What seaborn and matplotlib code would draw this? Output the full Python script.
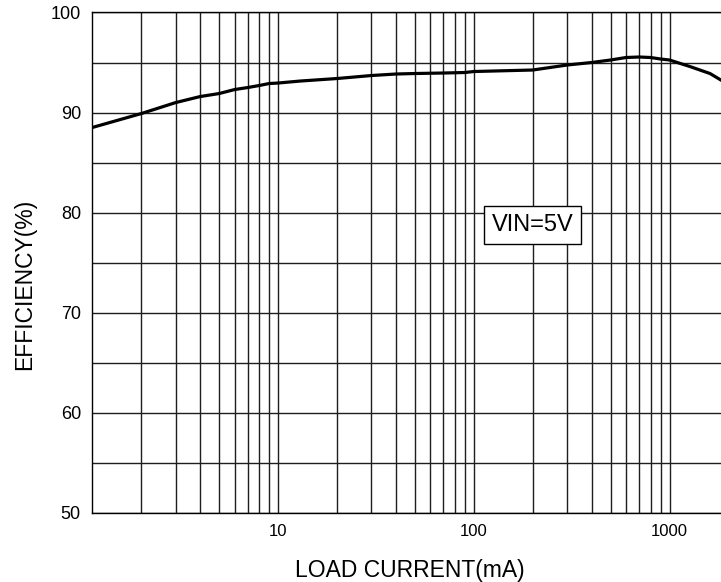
import numpy as np
import pandas as pd
import seaborn as sns
import matplotlib.pyplot as plt
from matplotlib.ticker import FixedLocator, NullFormatter

sns.set_theme(style="white")
plt.rcParams['font.family'] = ['Liberation Sans', 'DejaVu Sans']

# efficiency curve, VIN = 5V
load_current = [1.12, 2, 3, 4, 5, 6, 7, 8, 9, 10, 13, 20, 30, 40, 50, 70, 90, 100,
                200, 300, 400, 500, 600, 700, 800, 900, 1000, 1270, 1610, 2000]
efficiency = [88.5, 89.9, 91.0, 91.6, 91.9, 92.3, 92.5, 92.7, 92.9, 92.95, 93.15,
              93.4, 93.7, 93.85, 93.9, 93.95, 94.0, 94.1, 94.25, 94.75, 95.0, 95.25,
              95.5, 95.55, 95.5, 95.35, 95.25, 94.6, 93.9, 92.8]

x_ticks = [10, 100, 1000]
x_tick_labels = ['10', '100', '1000']
y_ticks = [50, 60, 70, 80, 90, 100]
annotation = 'VIN=5V'

df = pd.DataFrame({'Load': load_current, 'Eff': efficiency})

fig = plt.figure(figsize=(7.21, 5.82), dpi=100)
# right edge of the plot is cut off by the figure, like in the reference
ax = fig.add_axes([0.1276, 0.1186, 0.8827, 0.86])

sns.lineplot(data=df, x='Load', y='Eff', color='black', linewidth=2.3, ax=ax)

ax.set_xscale('log')
ax.set_xlim(1.12, 2000)
ax.set_ylim(50, 100)

minor = [m * d for d in (1, 10, 100, 1000) for m in range(2, 10) if m * d < 2000]
ax.xaxis.set_major_locator(FixedLocator(x_ticks))
ax.xaxis.set_minor_locator(FixedLocator(minor))
ax.xaxis.set_minor_formatter(NullFormatter())
ax.set_xticklabels(x_tick_labels)
ax.set_yticks(y_ticks)
ax.set_yticks(np.arange(55, 100, 10), minor=True)

ax.grid(True, which='both', color='#1e1e1e', linewidth=1.0)
ax.tick_params(which='both', length=0)
ax.tick_params(axis='x', labelsize=12, pad=8, colors='black')
ax.tick_params(axis='y', labelsize=13, pad=8, colors='black')

for s in ax.spines.values():
    s.set_color('black')
    s.set_linewidth(1.0)

ax.set_xlabel('LOAD CURRENT(mA)', fontsize=16.5, color='black')
ax.set_ylabel('EFFICIENCY(%)', fontsize=16.5, color='black')
ax.xaxis.set_label_coords(0.5, -0.091)
ax.yaxis.set_label_coords(-0.088, 0.4575)

ax.text(200, 78.75, annotation, fontsize=17, ha='center', va='center', color='black',
        bbox=dict(boxstyle='square,pad=0.33', facecolor='white', edgecolor='black', linewidth=1.0),
        zorder=5)

fig.savefig('out.png', dpi=100)
